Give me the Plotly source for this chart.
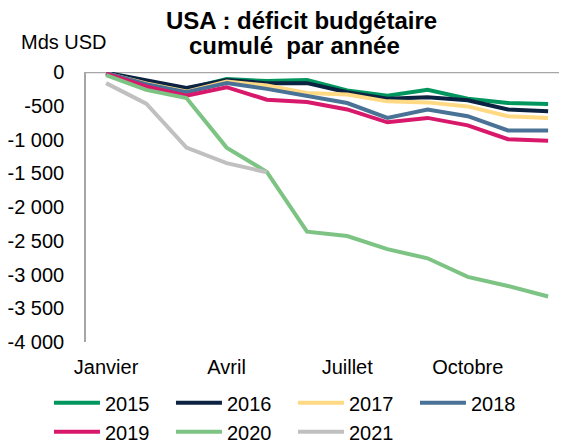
import plotly.graph_objects as go

months = ["Jan", "Fév", "Mar", "Avr", "Mai", "Juin", "Juil", "Août", "Sep", "Oct", "Nov", "Déc"]
tick_months = ["Jan", "Avr", "Juil", "Oct"]
tick_month_labels = ["Janvier", "Avril", "Juillet", "Octobre"]

y_2015 = [-20, -150, -250, -105, -135, -120, -275, -350, -265, -395, -460, -475]
y_2016 = [-10, -130, -235, -120, -165, -165, -300, -395, -375, -420, -555, -580]
y_2017 = [-20, -170, -290, -140, -200, -310, -335, -435, -450, -510, -655, -680]
y_2018 = [-15, -180, -300, -165, -250, -360, -460, -680, -555, -655, -865, -865]
y_2019 = [-25, -215, -350, -225, -410, -445, -555, -745, -680, -790, -995, -1020]
y_2020 = [-45, -265, -385, -1120, -1480, -2365, -2430, -2625, -2760, -3035, -3170, -3325]
y_2021 = [-165, -470, -1120, -1350, -1485, None, None, None, None, None, None, None]

y_tickvals = [0, -500, -1000, -1500, -2000, -2500, -3000, -3500, -4000]
y_ticktext = ["0", "-500", "-1 000", "-1 500", "-2 000", "-2 500", "-3 000", "-3 500", "-4 000"]

title_line1 = "USA : déficit budgétaire"
title_line2 = "cumulé  par année"
y_unit = "Mds USD"

series = [
    ("2015", y_2015, "#00965E"),
    ("2016", y_2016, "#0B2341"),
    ("2017", y_2017, "#FFD983"),
    ("2018", y_2018, "#4A7296"),
    ("2019", y_2019, "#D8186A"),
    ("2020", y_2020, "#7DC383"),
    ("2021", y_2021, "#C0C0C0"),
]

FONT = "Liberation Sans, Arial, sans-serif"

fig = go.Figure()
for name, ys, col in series:
    fig.add_trace(go.Scatter(x=months, y=ys, name=name, mode="lines",
                             line=dict(color=col, width=4), connectgaps=False))

fig.update_layout(
    width=559, height=435,
    margin=dict(l=78, r=0, t=64, b=101, autoexpand=False),
    paper_bgcolor="white", plot_bgcolor="white",
    font=dict(family=FONT, size=20, color="black"),
    showlegend=True,
    legend=dict(orientation="h", x=-0.077, y=-0.153, xanchor="left", yanchor="top",
                font=dict(size=20), entrywidth=61, entrywidthmode="pixels",
                itemwidth=46, tracegroupgap=0, bgcolor="rgba(0,0,0,0)"),
    xaxis=dict(type="category", categoryorder="array", categoryarray=months,
               range=[-0.5, 11.47], tickmode="array", tickvals=tick_months,
               ticktext=tick_month_labels, showgrid=False, showline=False,
               zeroline=False, ticks="", ticklabelstandoff=11,
               tickfont=dict(size=20)),
    yaxis=dict(range=[-4000, 0], tickmode="array", tickvals=y_tickvals,
               ticktext=y_ticktext, showgrid=False, zeroline=False,
               showline=True, linecolor="#A6A6A6", linewidth=1.5, ticks="",
               ticklabelstandoff=16, tickfont=dict(size=20)),
    shapes=[dict(type="line", xref="paper", yref="y", x0=0, x1=1, y0=0, y1=0,
                 line=dict(color="#A6A6A6", width=2.5), layer="below")],
    annotations=[
        dict(text="<b>" + title_line1 + "</b>",
             xref="paper", yref="paper", x=0.447, y=1.1907,
             xanchor="center", yanchor="middle", showarrow=False,
             font=dict(size=24, family=FONT, color="black")),
        dict(text="<b>" + title_line2 + "</b>",
             xref="paper", yref="paper", x=0.4345, y=1.098,
             xanchor="center", yanchor="middle", showarrow=False,
             font=dict(size=24, family=FONT, color="black")),
        dict(text=y_unit, xref="paper", yref="paper", x=-0.046, y=1.110,
             xanchor="center", yanchor="middle", showarrow=False,
             font=dict(size=20, family=FONT)),
    ],
)

fig.write_html("out.html")
